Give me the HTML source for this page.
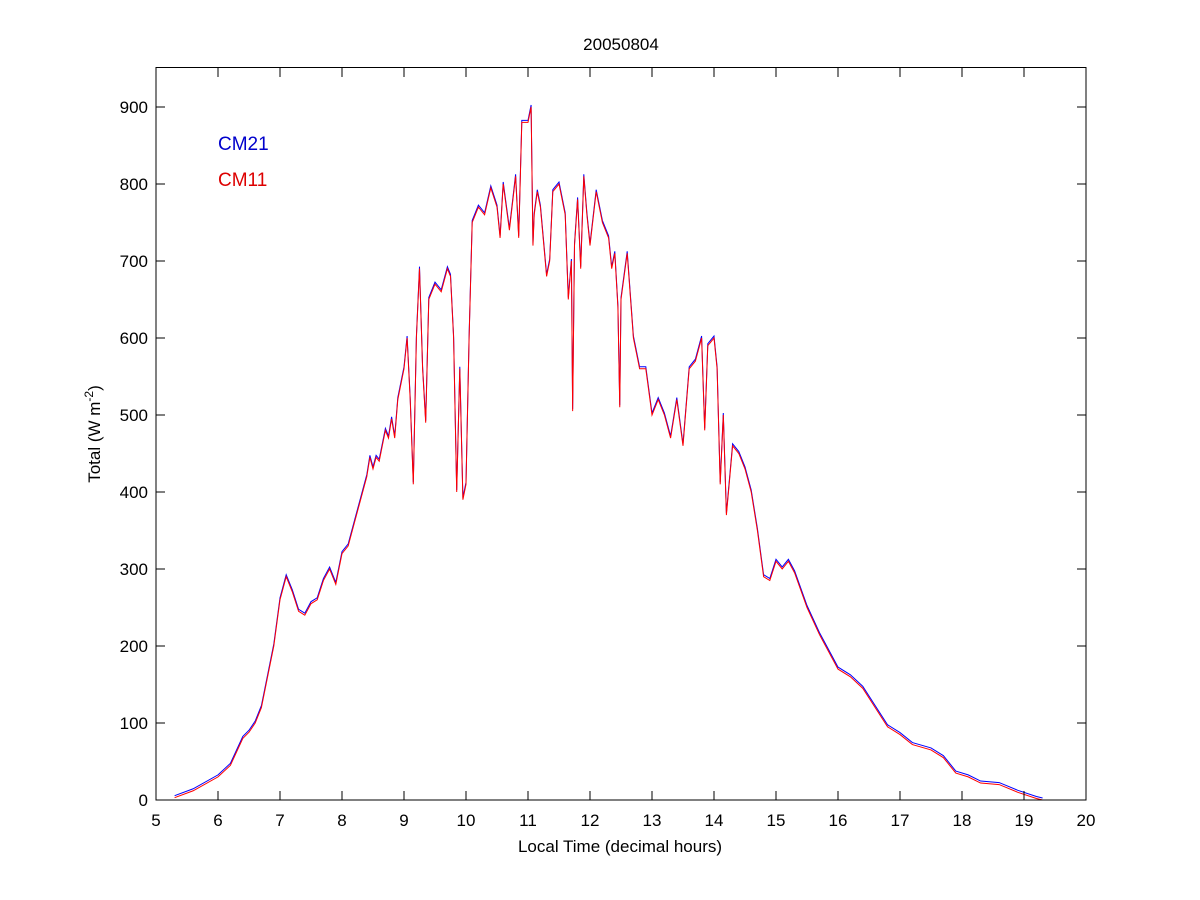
<!DOCTYPE html>
<html><head><meta charset="utf-8"><style>
body{margin:0;background:#fff;}
svg{display:block;font-family:"Liberation Sans",Arial,sans-serif;}
</style></head><body>
<svg width="1200" height="900" viewBox="0 0 1200 900">
<rect width="1200" height="900" fill="#fff"/>
<g transform="matrix(62 0 0 -0.77 -154 798)"><polyline fill="none" stroke="#0000ff" stroke-width="1" vector-effect="non-scaling-stroke" points="5.3,3 5.6,12 6.0,30 6.2,45 6.4,80 6.5,88 6.6,100 6.7,120 6.8,160 6.9,200 7.0,260 7.1,290 7.2,270 7.3,245 7.4,240 7.5,255 7.6,260 7.7,285 7.8,300 7.9,280 8.0,320 8.1,330 8.2,360 8.3,390 8.4,420 8.45,445 8.5,430 8.55,445 8.6,440 8.7,480 8.75,470 8.8,495 8.85,470 8.9,520 9.0,560 9.05,600 9.1,520 9.15,410 9.2,600 9.25,690 9.3,560 9.35,490 9.4,650 9.5,670 9.6,660 9.7,690 9.75,680 9.8,600 9.85,400 9.9,560 9.95,390 10.0,410 10.05,600 10.1,750 10.2,770 10.3,760 10.4,795 10.5,770 10.55,730 10.6,800 10.7,740 10.8,810 10.85,730 10.9,880 11.0,880 11.05,900 11.08,720 11.1,760 11.15,790 11.2,770 11.3,680 11.35,700 11.4,790 11.5,800 11.6,760 11.65,650 11.7,700 11.72,505 11.75,720 11.8,780 11.85,690 11.9,810 11.95,760 12.0,720 12.1,790 12.2,750 12.3,730 12.35,690 12.4,710 12.45,640 12.48,510 12.5,650 12.6,710 12.7,600 12.8,560 12.9,560 13.0,500 13.1,520 13.2,500 13.3,470 13.4,520 13.5,460 13.6,560 13.7,570 13.8,600 13.85,480 13.9,590 14.0,600 14.05,560 14.1,410 14.15,500 14.2,370 14.3,460 14.4,450 14.5,430 14.6,400 14.7,350 14.8,290 14.9,285 15.0,310 15.1,300 15.2,310 15.3,295 15.5,250 15.7,215 15.8,200 16.0,170 16.2,160 16.4,145 16.6,120 16.8,95 17.0,85 17.2,72 17.5,65 17.7,55 17.9,35 18.1,30 18.3,22 18.6,20 18.9,10 19.2,2 19.3,0"/></g>
<g transform="matrix(62 0 0 -0.77 -154 800)"><polyline fill="none" stroke="#ff0000" stroke-width="1" vector-effect="non-scaling-stroke" points="5.3,3 5.6,12 6.0,30 6.2,45 6.4,80 6.5,88 6.6,100 6.7,120 6.8,160 6.9,200 7.0,260 7.1,290 7.2,270 7.3,245 7.4,240 7.5,255 7.6,260 7.7,285 7.8,300 7.9,280 8.0,320 8.1,330 8.2,360 8.3,390 8.4,420 8.45,445 8.5,430 8.55,445 8.6,440 8.7,480 8.75,470 8.8,495 8.85,470 8.9,520 9.0,560 9.05,600 9.1,520 9.15,410 9.2,600 9.25,690 9.3,560 9.35,490 9.4,650 9.5,670 9.6,660 9.7,690 9.75,680 9.8,600 9.85,400 9.9,560 9.95,390 10.0,410 10.05,600 10.1,750 10.2,770 10.3,760 10.4,795 10.5,770 10.55,730 10.6,800 10.7,740 10.8,810 10.85,730 10.9,880 11.0,880 11.05,900 11.08,720 11.1,760 11.15,790 11.2,770 11.3,680 11.35,700 11.4,790 11.5,800 11.6,760 11.65,650 11.7,700 11.72,505 11.75,720 11.8,780 11.85,690 11.9,810 11.95,760 12.0,720 12.1,790 12.2,750 12.3,730 12.35,690 12.4,710 12.45,640 12.48,510 12.5,650 12.6,710 12.7,600 12.8,560 12.9,560 13.0,500 13.1,520 13.2,500 13.3,470 13.4,520 13.5,460 13.6,560 13.7,570 13.8,600 13.85,480 13.9,590 14.0,600 14.05,560 14.1,410 14.15,500 14.2,370 14.3,460 14.4,450 14.5,430 14.6,400 14.7,350 14.8,290 14.9,285 15.0,310 15.1,300 15.2,310 15.3,295 15.5,250 15.7,215 15.8,200 16.0,170 16.2,160 16.4,145 16.6,120 16.8,95 17.0,85 17.2,72 17.5,65 17.7,55 17.9,35 18.1,30 18.3,22 18.6,20 18.9,10 19.2,2 19.3,0"/></g>
<rect x="156" y="67.5" width="930" height="732.5" fill="none" stroke="#000" stroke-width="1"/>
<g stroke="#000" stroke-width="1">
<path d="M156,800v-9M218,800v-9M280,800v-9M342,800v-9M404,800v-9M466,800v-9M528,800v-9M590,800v-9M652,800v-9M714,800v-9M776,800v-9M838,800v-9M900,800v-9M962,800v-9M1024,800v-9M1086,800v-9"/>
<path d="M156,68v9M218,68v9M280,68v9M342,68v9M404,68v9M466,68v9M528,68v9M590,68v9M652,68v9M714,68v9M776,68v9M838,68v9M900,68v9M962,68v9M1024,68v9M1086,68v9"/>
<path d="M156,723h9M156,646h9M156,569h9M156,492h9M156,415h9M156,338h9M156,261h9M156,184h9M156,107h9"/>
<path d="M1086,723h-9M1086,646h-9M1086,569h-9M1086,492h-9M1086,415h-9M1086,338h-9M1086,261h-9M1086,184h-9M1086,107h-9"/>
</g>
<g font-size="17" fill="#000" text-anchor="middle">
<text x="156" y="826">5</text><text x="218" y="826">6</text><text x="280" y="826">7</text><text x="342" y="826">8</text><text x="404" y="826">9</text><text x="466" y="826">10</text><text x="528" y="826">11</text><text x="590" y="826">12</text><text x="652" y="826">13</text><text x="714" y="826">14</text><text x="776" y="826">15</text><text x="838" y="826">16</text><text x="900" y="826">17</text><text x="962" y="826">18</text><text x="1024" y="826">19</text><text x="1086" y="826">20</text>
</g>
<g font-size="17" fill="#000" text-anchor="end">
<text x="148" y="806">0</text><text x="148" y="729">100</text><text x="148" y="652">200</text><text x="148" y="575">300</text><text x="148" y="498">400</text><text x="148" y="421">500</text><text x="148" y="344">600</text><text x="148" y="267">700</text><text x="148" y="190">800</text><text x="148" y="113">900</text>
</g>
<text x="620" y="852" font-size="17" text-anchor="middle">Local Time (decimal hours)</text>
<text x="621" y="50" font-size="17" text-anchor="middle">20050804</text>
<text transform="translate(100,434) rotate(-90)" font-size="17" text-anchor="middle">Total (W m<tspan dy="-7" font-size="12">-2</tspan><tspan dy="7">)</tspan></text>
<text x="218" y="150" font-size="19" fill="#0000cc">CM21</text>
<text x="218" y="186" font-size="19" fill="#dd0000">CM11</text>
</svg>
</body></html>
